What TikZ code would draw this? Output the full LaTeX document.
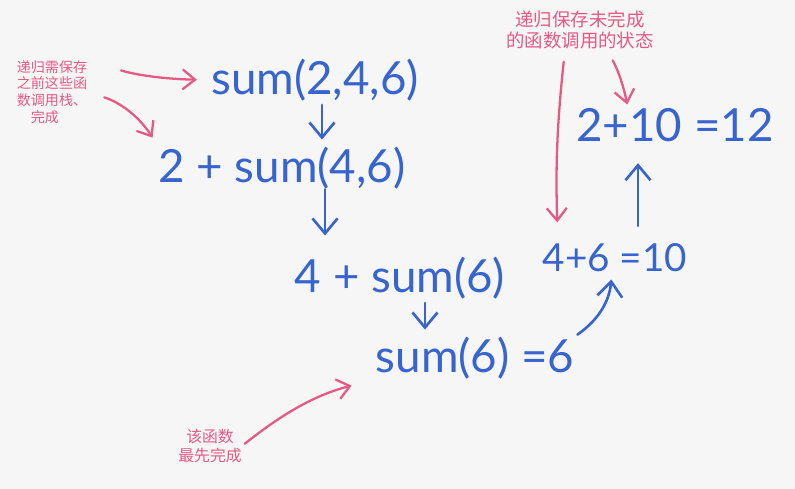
\documentclass[tikz,border=0pt]{standalone}
\usepackage{fontspec}
\setmainfont{Lato}
\newfontfamily\cjk{Noto Sans CJK SC}
\usetikzlibrary{arrows.meta, positioning}
\definecolor{ink}{RGB}{55,100,205}
\definecolor{pen}{RGB}{228,90,132}
\definecolor{paper}{RGB}{246,246,246}

\begin{document}
\begin{tikzpicture}[x=0.02cm, y=-0.02cm,
  expr/.style={text=ink, font=\fontsize{26}{30}\selectfont, inner sep=0pt},
  note/.style={text=pen, font=\cjk\fontsize{8}{9.5}\selectfont, align=left, inner sep=0pt},
  barr/.style={-{Straight Barb[length=3mm, width=5mm]}, ink, line width=1.5pt, line cap=round},
  parr/.style={-{Straight Barb[length=2.5mm, width=4mm]}, pen, line width=1.3pt, line cap=round}
]
  \fill[paper] (0,0) rectangle (795,489);
  \useasboundingbox (0,0) rectangle (795,489);

  % calls going down
  \node[expr] (s1) at (315,80) {sum(2,4,6)};
  \node[expr] (s2) at (282,168) {2 + sum(4,6)};
  \node[expr] (s3) at (400,278) {4 + sum(6)};
  \node[expr] (s4) at (475,358) {sum(6) =6};
  % results going up
  \node[expr, font=\fontsize{22}{26}\selectfont] (r1) at (615,258) {4+6 =10};
  \node[expr] (r2) at (675,125) {2+10 =12};

  \draw[barr, shorten <=2pt, shorten >=4pt] (s1.south -| 322,0) -- (s2.north -| 322,0);
  \draw[barr, shorten <=0pt, shorten >=12pt] (s2.south -| 325,0) -- (s3.north -| 325,0);
  \draw[barr, shorten <=2pt, shorten >=4pt] (s3.south -| 425,0) -- (s4.north -| 425,0);
  \draw[barr, shorten <=2pt, shorten >=4pt] (s4.north east) to[bend right=25] (r1.south -| 612,0);
  \draw[barr, shorten <=10pt, shorten >=12pt] (r1.north -| 638,0) -- (r2.south -| 638,0);

  % notes
  \node[note] (noteleft) at (52,92) {递归需保存\\之前这些函\\数调用栈、\\\quad 完成};
  \node[note, align=center, font=\cjk\fontsize{10.5}{12}\selectfont] (notetop) at (580,30) {递归保存未完成\\的函数调用的状态};
  \node[note, align=center, font=\cjk\fontsize{9}{11}\selectfont] (notebottom) at (210,446) {该函数\\最先完成};

  \draw[parr, shorten <=20pt, shorten >=8pt] (noteleft.north east) to[bend right=8] (s1.west);
  \draw[parr, shorten <=10pt, shorten >=6pt] (noteleft.east) to[bend left=20] (s2.north west);
  \draw[parr, shorten <=7pt, shorten >=12pt] (notetop.south -| 565,0) to[bend right=4] (r1.north -| 558,0);
  \draw[parr, shorten <=7pt, shorten >=2pt] (notetop.south -| 607,0) to[bend left=8] (r2.north -| 628,0);
  \draw[parr, shorten <=2pt, shorten >=14pt] (notebottom.east) to[bend left=12] (s4.south west);
\end{tikzpicture}
\end{document}
